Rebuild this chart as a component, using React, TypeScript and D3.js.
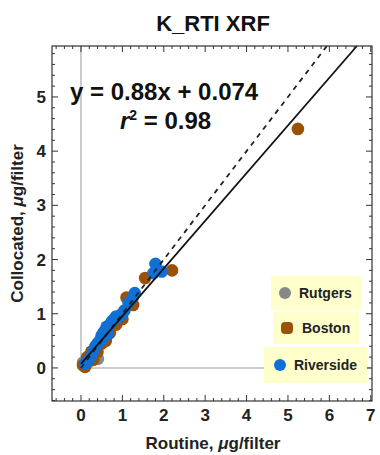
import React from "react";
import * as d3 from "d3";

const rutgers: [number, number][] = [
  [0.1, 0.06], [0.41, 0.17], [0.2, 0.12], [0.05, 0.1],
];
const boston: [number, number][] = [
  [0.05, 0.05], [0.1, 0.02], [0.15, 0.2], [0.25, 0.3], [0.4, 0.3], [0.3, 0.15],
  [0.5, 0.45], [0.6, 0.5], [0.7, 0.65], [0.85, 0.8], [1.0, 0.9], [1.1, 1.3],
  [1.26, 1.16], [1.55, 1.66], [2.2, 1.8], [5.24, 4.41],
];
const riverside: [number, number][] = [
  [0.1, 0.08], [0.15, 0.12], [0.25, 0.22], [0.3, 0.32], [0.35, 0.4], [0.4, 0.45],
  [0.45, 0.5], [0.5, 0.6], [0.5, 0.52], [0.55, 0.66], [0.6, 0.7], [0.65, 0.62],
  [0.62, 0.76], [0.7, 0.8], [0.75, 0.86], [0.8, 0.9], [0.85, 0.95], [0.9, 0.94],
  [1.0, 1.0], [1.05, 1.06], [1.15, 1.2], [1.25, 1.3], [1.3, 1.38], [1.75, 1.75],
  [1.8, 1.92], [1.95, 1.78],
];
const slope = 0.88;
const intercept = 0.074;
const xTicks = [0, 1, 2, 3, 4, 5, 6, 7];
const yTicks = [0, 1, 2, 3, 4, 5];
const legendNames = ["Rutgers", "Boston", "Riverside"];
const colors = ["#888888", "#9a5208", "#1170d4"];

const font = "'Liberation Sans', Arial, sans-serif";

export default function App() {
  const W = 380, H = 455;
  const left = 52, right = 372, top = 46, bottom = 401;
  const x = d3.scaleLinear().domain([-0.7, 7.03]).range([left, right]);
  const y = d3.scaleLinear().domain([-0.61, 5.94]).range([bottom, top]);
  const [, x1] = x.domain();
  const [, y1] = y.domain();

  const xMinor = d3.range(-0.6, 7.01, 0.2).filter((v) => Math.abs(v - Math.round(v)) > 1e-6);
  const yMinor = d3.range(-0.6, 5.91, 0.2).filter((v) => Math.abs(v - Math.round(v)) > 1e-6);

  const fitEndX = (y1 - intercept) / slope;
  const line = d3.line<[number, number]>().x((d) => x(d[0])).y((d) => y(d[1]));

  const series = [rutgers, boston, riverside];
  const legendBoxes = [
    { x: 271, y: 276, w: 90, h: 34 },
    { x: 273, y: 312, w: 86, h: 32 },
    { x: 264, y: 347, w: 103, h: 36 },
  ];
  const legendMarks = [
    { mx: 285, tx: 299 },
    { mx: 287, tx: 302 },
    { mx: 280, tx: 294 },
  ];

  return (
    <svg width={W} height={H} style={{ position: "absolute", left: 0, top: 0 }} fontFamily={font}>
      <rect width={W} height={H} fill="#fff" />
      <text x={213} y={31} textAnchor="middle" fontSize={22} fontWeight="bold" fill="#111">K_RTI XRF</text>

      {/* axes at origin */}
      <line x1={x(0)} x2={x(0)} y1={y(0)} y2={y(y1)} stroke="#bbb" strokeWidth={1.5} />
      <line x1={x(0)} x2={x(x1)} y1={y(0)} y2={y(0)} stroke="#bbb" strokeWidth={1.5} />

      {/* points */}
      {series.map((s, i) => (
        <g key={i}>
          {s.map((d, j) => (
            <circle key={j} cx={x(d[0])} cy={y(d[1])} r={6.3} fill={colors[i]} />
          ))}
        </g>
      ))}

      {/* 1:1 and fit lines */}
      <path d={line([[0, 0], [y1, y1]]) as string} stroke="#222" strokeWidth={1.8} strokeDasharray="5,5" fill="none" />
      <path d={line([[0, intercept], [fitEndX, y1]]) as string} stroke="#111" strokeWidth={1.8} fill="none" />

      {/* frame */}
      <rect x={left} y={top} width={right - left} height={bottom - top} fill="none" stroke="#333" strokeWidth={1.2} />
      {xTicks.map((t) => (
        <g key={t}>
          <line x1={x(t)} x2={x(t)} y1={bottom} y2={bottom - 6} stroke="#333" />
          <line x1={x(t)} x2={x(t)} y1={top} y2={top + 6} stroke="#333" />
          <text x={x(t)} y={421} textAnchor="middle" fontSize={17} fontWeight="bold" fill="#222">{t}</text>
        </g>
      ))}
      {xMinor.map((t, i) => (
        <g key={i}>
          <line x1={x(t)} x2={x(t)} y1={bottom} y2={bottom - 3} stroke="#333" />
          <line x1={x(t)} x2={x(t)} y1={top} y2={top + 3} stroke="#333" />
        </g>
      ))}
      {yTicks.map((t) => (
        <g key={t}>
          <line x1={left} x2={left + 6} y1={y(t)} y2={y(t)} stroke="#333" />
          <line x1={right} x2={right - 6} y1={y(t)} y2={y(t)} stroke="#333" />
          <text x={46} y={y(t) + 6} textAnchor="end" fontSize={17} fontWeight="bold" fill="#222">{t}</text>
        </g>
      ))}
      {yMinor.map((t, i) => (
        <g key={i}>
          <line x1={left} x2={left + 3} y1={y(t)} y2={y(t)} stroke="#333" />
          <line x1={right} x2={right - 3} y1={y(t)} y2={y(t)} stroke="#333" />
        </g>
      ))}

      {/* equation */}
      <text x={70} y={100} fontSize={24} fontWeight="bold" fill="#111">y = 0.88x + 0.074</text>
      <text x={120} y={129} fontSize={24} fontWeight="bold" fill="#111">
        <tspan fontStyle="italic">r</tspan>
        <tspan fontSize={14} dy={-9}>2</tspan>
        <tspan dy={9}> = 0.98</tspan>
      </text>

      {/* legend */}
      {legendNames.map((n, i) => {
        const b = legendBoxes[i];
        const m = legendMarks[i];
        const cy = b.y + b.h / 2;
        return (
          <g key={n}>
            <rect x={b.x} y={b.y} width={b.w} height={b.h} fill="#ffffcc" />
            {i === 1 ? (
              <rect x={m.mx - 6} y={cy - 6} width={12} height={12} rx={4} fill={colors[i]} />
            ) : (
              <circle cx={m.mx} cy={cy} r={6} fill={colors[i]} />
            )}
            <text x={m.tx} y={cy + 5} fontSize={14} fontWeight="bold" fill="#222">{n}</text>
          </g>
        );
      })}

      {/* axis titles */}
      <text x={213} y={449} textAnchor="middle" fontSize={17} fontWeight="bold" fill="#222">
        Routine, <tspan fontStyle="italic">μ</tspan>g/filter
      </text>
      <text transform={`translate(23,${(top + bottom) / 2}) rotate(-90)`} textAnchor="middle" fontSize={17} fontWeight="bold" fill="#222">
        Collocated, <tspan fontStyle="italic">μ</tspan>g/filter
      </text>
    </svg>
  );
}
